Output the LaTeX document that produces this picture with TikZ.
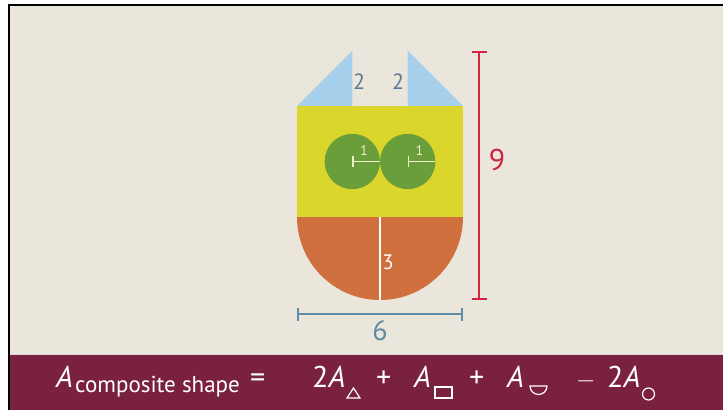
\documentclass[tikz,border=0pt]{standalone}
\usepackage{fontspec}
\setmainfont{PT Sans}
\usepackage{xcolor}
\usepackage{tikz}
\usetikzlibrary{positioning}
\usetikzlibrary{calc}
\usetikzlibrary{arrows.meta}

\definecolor{paper}{HTML}{EAE6DC}
\definecolor{skyblue}{HTML}{A7D0EC}
\definecolor{lemon}{HTML}{DAD62C}
\definecolor{leaf}{HTML}{6A9E3A}
\definecolor{rust}{HTML}{D0703F}
\definecolor{dimred}{HTML}{D2243F}
\definecolor{dimblue}{HTML}{5F8CA6}
\definecolor{slate}{HTML}{5A7B98}
\definecolor{maroon}{HTML}{7A2142}
\definecolor{chalk}{HTML}{F2F0C8}

\begin{document}
\begin{tikzpicture}[x=1pt,y=-1pt,
    lbl/.style={inner sep=0pt,font=\fontsize{#1}{#1}\selectfont},
    eq/.style={inner sep=0pt,anchor=base west,text=white,font=\fontsize{30}{30}\selectfont},
    sub/.style={white,line width=1.2pt}]
\useasboundingbox (0,0) rectangle (723,410);
\fill[white] (0,0) rectangle (723,410);
\fill[paper] (9,5) rectangle (723,355);
\fill[maroon] (9,355) rectangle (723,410);
\draw[white!80!maroon,line width=1pt] (10,354.2) -- (723,354.2);
\draw[black,line width=2.2pt] (9,410) -- (9,5) -- (723,5);

% the shape
\fill[skyblue] (297,106) -- (352.3,106) -- (352.3,50.7) -- cycle;
\fill[skyblue] (407.7,106) -- (463,106) -- (407.7,50.7) -- cycle;
\fill[lemon] (297,106) rectangle (463,217);
\fill[rust] (297,217) arc[start angle=180,end angle=0,radius=83] -- cycle;
\fill[leaf] (352.3,161.5) circle[radius=27.7];
\fill[leaf] (407.7,161.5) circle[radius=27.7];

\coordinate (c1) at (352.3,161.5);
\coordinate (c2) at (407.7,161.5);
\coordinate (r1) at (380,161.5);
\coordinate (r2) at (435.4,161.5);
\draw[chalk,line width=1.3pt,{Bar[width=11pt]}-] (c1) -- (r1);
\draw[chalk,line width=1.3pt,{Bar[width=11pt]}-] (c2) -- (r2);
\node[lbl=14,text=chalk] (one1) at (364,151) {1};
\node[lbl=14,text=chalk] (one2) at (419.5,151) {1};

\coordinate (mid) at (380,217);
\coordinate (bot) at (380,300);
\draw[white!90!paper,line width=1.5pt] (mid) -- (bot);
\node[lbl=21,text=white!90!paper] (three) at (388,262) {3};

\node[lbl=22,text=slate] (two1) at (359,82) {2};
\node[lbl=22,text=slate] (two2) at (398,82) {2};

% dimensions
\coordinate (htop) at (479,50.7);
\coordinate (hbot) at (479,300);
\draw[dimred,line width=2.4pt,{Bar[width=15pt]}-{Bar[width=15pt]}] (htop) -- (hbot);
\node[lbl=30,text=dimred] (nine) at (497,160) {9};

\coordinate (wl) at (297,314);
\coordinate (wr) at (463,314);
\draw[dimblue,line width=2.4pt,{Bar[width=13pt]}-{Bar[width=13pt]}] (wl) -- (wr);
\node[lbl=28,text=dimblue] (six) at (380,331) {6};

% formula
\node[eq] (a0) at (56,387) {\itshape A};
\node[eq,font=\fontsize{23}{23}\selectfont] (comp) at (75,392) {composite shape};
\node[eq] (equal) at (250,387) {=};
\node[eq] (a1) at (312,387) {2\itshape A};
\draw[sub] (347,398) -- (360,398) -- (353.5,388) -- cycle;
\node[eq] (plus1) at (376,387) {+};
\node[eq] (a2) at (414,387) {\itshape A};
\draw[sub] (435,387) rectangle (452,398);
\node[eq] (plus2) at (469,387) {+};
\node[eq] (a3) at (507,387) {\itshape A};
\draw[sub] (530,386) -- (547,386) arc[start angle=0,end angle=180,radius=8.5] -- cycle;
\node[eq] (minus) at (576,387) {$-$};
\node[eq] (a4) at (607,387) {2\itshape A};
\draw[sub] (648.5,394) circle[radius=6];
\end{tikzpicture}
\end{document}
